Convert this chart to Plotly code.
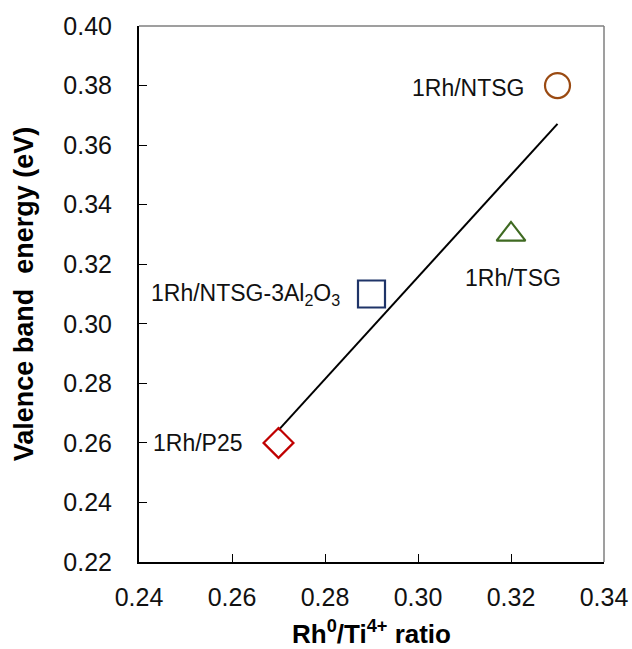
import numpy as np
import plotly.graph_objects as go

# Data
samples = ["1Rh/P25", "1Rh/NTSG-3Al<sub>2</sub>O<sub>3</sub>", "1Rh/TSG", "1Rh/NTSG"]
rh_ti_ratio = [0.27, 0.29, 0.32, 0.33]
vb_energy = [0.26, 0.31, 0.33, 0.38]
symbols = ["diamond-open", "square-open", "triangle-up-open", "circle-open"]
colors = ["#C00000", "#1F3468", "#3F6A22", "#9A4A12"]
sizes = [23, 27, 25, 25]
x_ticks = [0.24, 0.26, 0.28, 0.30, 0.32, 0.34]
y_ticks = [0.22, 0.24, 0.26, 0.28, 0.30, 0.32, 0.34, 0.36, 0.38, 0.40]

# label offsets (pixels) relative to each point
label_cfg = [
    dict(xanchor="right", xshift=-34, yshift=0),
    dict(xanchor="right", xshift=-30, yshift=0),
    dict(xanchor="center", xshift=2, yshift=-44),
    dict(xanchor="right", xshift=-32, yshift=-2),
]

FONT = "Arial, Liberation Sans, sans-serif"

fig = go.Figure()

# linear trend line
slope, intercept = np.polyfit(rh_ti_ratio, vb_energy, 1)
xl = np.array([min(rh_ti_ratio), max(rh_ti_ratio)])
fig.add_trace(go.Scatter(x=xl, y=slope * xl + intercept, mode="lines",
                         line=dict(color="black", width=2), showlegend=False,
                         hoverinfo="skip"))

for i in range(len(samples)):
    fig.add_trace(go.Scatter(
        x=[rh_ti_ratio[i]], y=[vb_energy[i]], mode="markers",
        marker=dict(symbol=symbols[i], size=sizes[i], color=colors[i],
                    line=dict(width=2.2, color=colors[i])),
        showlegend=False, name=samples[i]))
    fig.add_annotation(x=rh_ti_ratio[i], y=vb_energy[i], text=samples[i],
                       showarrow=False, font=dict(family=FONT, size=23, color="#111"),
                       yanchor="middle", **label_cfg[i])

# top/right gray frame
fig.add_shape(type="line", xref="paper", yref="paper", x0=0, x1=1, y0=1, y1=1,
              line=dict(color="#7f7f7f", width=1.5))
fig.add_shape(type="line", xref="paper", yref="paper", x0=1, x1=1, y0=0, y1=1,
              line=dict(color="#7f7f7f", width=1.5))

fig.update_layout(
    width=632, height=649,
    margin=dict(l=139, r=28, t=26, b=87, autoexpand=False),
    paper_bgcolor="white", plot_bgcolor="white",
    font=dict(family=FONT, color="black"),
)
fig.update_xaxes(
    range=[0.24, 0.34], tickvals=x_ticks, ticktext=[f"{v:.2f}" for v in x_ticks],
    showgrid=False, zeroline=False, showline=True, linecolor="black", linewidth=2,
    ticks="inside", ticklen=8, tickwidth=1, tickcolor="black",
    tickfont=dict(size=25, family=FONT, color="#111"),
    ticklabelstandoff=12, automargin=False,
    title=dict(text="<b>Rh<sup>0</sup>/Ti<sup>4+</sup> ratio</b>",
               font=dict(size=26, family=FONT), standoff=16),
)
fig.update_yaxes(
    range=[0.22, 0.40], tickvals=y_ticks, ticktext=[f"{v:.2f}" for v in y_ticks],
    showgrid=False, zeroline=False, showline=True, linecolor="black", linewidth=2,
    ticks="inside", ticklen=8, tickwidth=1, tickcolor="black",
    tickfont=dict(size=25, family=FONT, color="#111"),
    ticklabelstandoff=20, automargin=False,
    title=dict(text="<b>Valence band  energy (eV)</b>",
               font=dict(size=27, family=FONT), standoff=22),
)

fig.write_html("out.html")
